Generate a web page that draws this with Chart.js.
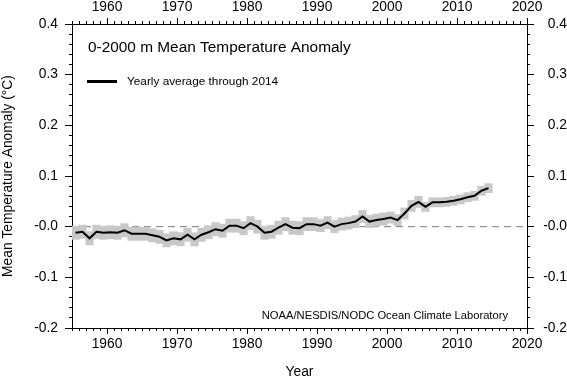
<!DOCTYPE html>
<html><head><meta charset="utf-8">
<script src="https://cdn.jsdelivr.net/npm/chart.js@4"></script>
<style>html,body{margin:0;padding:0;background:#fff}</style>
</head><body>
<canvas id="c" width="567" height="380"></canvas>
<script>
const years = [1955,1956,1957,1958,1959,1960,1961,1962,1963,1964,1965,1966,1967,1968,1969,1970,1971,1972,1973,1974,1975,1976,1977,1978,1979,1980,1981,1982,1983,1984,1985,1986,1987,1988,1989,1990,1991,1992,1993,1994,1995,1996,1997,1998,1999,2000,2001,2002,2003,2004,2005,2006,2007,2008,2009,2010,2011,2012,2013,2014];
const anomaly = [-0.012,-0.010,-0.023,-0.010,-0.012,-0.011,-0.012,-0.007,-0.014,-0.014,-0.014,-0.017,-0.020,-0.027,-0.023,-0.025,-0.016,-0.025,-0.016,-0.011,-0.005,-0.008,0.002,0.002,-0.003,0.007,0.000,-0.012,-0.010,-0.002,0.005,-0.002,-0.003,0.005,0.005,0.002,0.008,0.000,0.005,0.007,0.010,0.020,0.010,0.013,0.015,0.018,0.013,0.026,0.041,0.049,0.039,0.048,0.048,0.049,0.051,0.054,0.058,0.061,0.071,0.076];
const uncertainty = [0.013,0.013,0.013,0.013,0.013,0.013,0.013,0.013,0.013,0.013,0.013,0.013,0.013,0.013,0.013,0.013,0.013,0.013,0.013,0.013,0.013,0.013,0.013,0.013,0.013,0.013,0.013,0.013,0.013,0.013,0.013,0.013,0.013,0.013,0.013,0.012,0.012,0.012,0.012,0.012,0.012,0.012,0.012,0.012,0.012,0.011,0.011,0.011,0.011,0.011,0.009,0.009,0.009,0.009,0.009,0.009,0.009,0.009,0.009,0.009];
const xTickLabels = ['1960','1970','1980','1990','2000','2010','2020'];
const yTickLabels = ['-0.2','-0.1','-0.0','0.1','0.2','0.3','0.4'];
const chartTitle = '0-2000 m Mean Temperature Anomaly';
const legendLabel = 'Yearly average through 2014';
const sourceLabel = 'NOAA/NESDIS/NODC Ocean Climate Laboratory';
const xAxisTitle = 'Year';
const yAxisTitle = 'Mean Temperature Anomaly (\u00B0C)';

const FONT = '"Liberation Sans", Arial, Helvetica, sans-serif';
const X_MIN = 1955, X_MAX = 2020, Y_MIN = -0.2, Y_MAX = 0.4;

const lineData = years.map((y, i) => ({x: y + 0.5, y: anomaly[i]}));
const bandData = years.map((y, i) => ({x: y + 0.5, y: [anomaly[i] - uncertainty[i], anomaly[i] + uncertainty[i]]}));
const zeroData = [{x: X_MIN, y: 0}, {x: X_MAX, y: 0}];

const xTicks = s => { s.ticks = xTickLabels.map(t => ({value: Number(t)})); };
const yTicks = s => { s.ticks = yTickLabels.map((t, i) => ({value: Y_MIN + i * 0.1})); };
function yLabel(v, i) { return yTickLabels[i]; }

const tickFont = {family: FONT, size: 13.8};
const gridOpts = {display: true, drawOnChartArea: false, drawTicks: false};
const borderOpts = {display: true, color: '#000', width: 1};

function align(p) { return Math.round(p - 0.5) + 0.5; }

const overlay = {
  id: 'overlay',
  afterDraw(chart) {
    const {ctx, chartArea: a, scales} = chart;
    ctx.save();
    ctx.strokeStyle = '#000';
    ctx.lineWidth = 1;
    ctx.beginPath();
    for (let yr = X_MIN; yr <= X_MAX; yr++) {
      const px = align(scales.x.getPixelForValue(yr));
      const len = yr % 10 === 0 ? 6 : 3;
      ctx.moveTo(px, a.bottom); ctx.lineTo(px, a.bottom + len);
      ctx.moveTo(px, a.top); ctx.lineTo(px, a.top - len);
    }
    for (let i = 0; i <= 30; i++) {
      const v = Y_MIN + i * 0.02;
      const py = align(scales.y.getPixelForValue(v));
      const len = i % 5 === 0 ? 7 : 3;
      ctx.moveTo(a.left, py); ctx.lineTo(a.left - len, py);
      ctx.moveTo(a.right, py); ctx.lineTo(a.right + len, py);
    }
    ctx.stroke();

    ctx.fillStyle = '#000';
    ctx.textAlign = 'left';
    ctx.textBaseline = 'alphabetic';
    ctx.font = '15.4px ' + FONT;
    ctx.fillText(chartTitle, a.left + 16, a.top + 28);

    ctx.lineWidth = 3;
    ctx.beginPath();
    ctx.moveTo(a.left + 15, a.top + 57.5); ctx.lineTo(a.left + 45, a.top + 57.5);
    ctx.stroke();
    ctx.font = '11.8px ' + FONT;
    ctx.textBaseline = 'middle';
    ctx.fillText(legendLabel, a.left + 55, a.top + 58);

    ctx.textAlign = 'right';
    ctx.font = '11.2px ' + FONT;
    ctx.fillText(sourceLabel, a.right - 19, a.bottom - 12);
    ctx.restore();
  }
};

new Chart(document.getElementById('c'), {
  type: 'bar',
  data: {
    datasets: [
      {type: 'line', data: zeroData, borderColor: '#7a7a7a', borderWidth: 1, borderDash: [7, 5], pointRadius: 0, order: 4, xAxisID: 'x', yAxisID: 'y'},
      {type: 'bar', data: bandData, backgroundColor: '#c8c8c8', borderWidth: 0, barThickness: 7.5, grouped: false, order: 3, xAxisID: 'x', yAxisID: 'y'},
      {type: 'line', data: lineData, borderColor: '#000', borderWidth: 2, pointRadius: 0, tension: 0, order: 1, xAxisID: 'x', yAxisID: 'y'}
    ]
  },
  options: {
    responsive: false,
    devicePixelRatio: 1,
    animation: false,
    events: [],
    layout: {padding: 0},
    plugins: {legend: {display: false}, tooltip: {enabled: false}, title: {display: false}},
    scales: {
      x: {type: 'linear', position: 'bottom', min: X_MIN, max: X_MAX, offset: false,
          grid: gridOpts, border: borderOpts, afterBuildTicks: xTicks,
          ticks: {autoSkip: false, maxRotation: 0, padding: 8, color: '#000', font: tickFont, callback: v => String(v)},
          title: {display: true, text: xAxisTitle, color: '#000', font: {family: FONT, size: 13.8}, padding: 0},
          afterFit: s => { s.height = 52; }},
      x2: {type: 'linear', position: 'top', min: X_MIN, max: X_MAX, offset: false,
          grid: gridOpts, border: borderOpts, afterBuildTicks: xTicks,
          ticks: {autoSkip: false, maxRotation: 0, padding: 9, color: '#000', font: tickFont, callback: v => String(v)},
          afterFit: s => { s.height = 24; }},
      y: {type: 'linear', position: 'left', min: Y_MIN, max: Y_MAX,
          grid: gridOpts, border: borderOpts, afterBuildTicks: yTicks,
          ticks: {autoSkip: false, padding: 14, color: '#000', font: tickFont, callback: yLabel},
          title: {display: true, text: yAxisTitle, color: '#000', font: {family: FONT, size: 13.8}, padding: 0},
          afterFit: s => { s.width = 72; }},
      y2: {type: 'linear', position: 'right', min: Y_MIN, max: Y_MAX,
          grid: gridOpts, border: borderOpts, afterBuildTicks: yTicks,
          ticks: {autoSkip: false, padding: 14, crossAlign: 'far', color: '#000', font: tickFont, callback: yLabel},
          afterFit: s => { s.width = 40; }}
    }
  },
  plugins: [overlay]
});
</script>
</body></html>
